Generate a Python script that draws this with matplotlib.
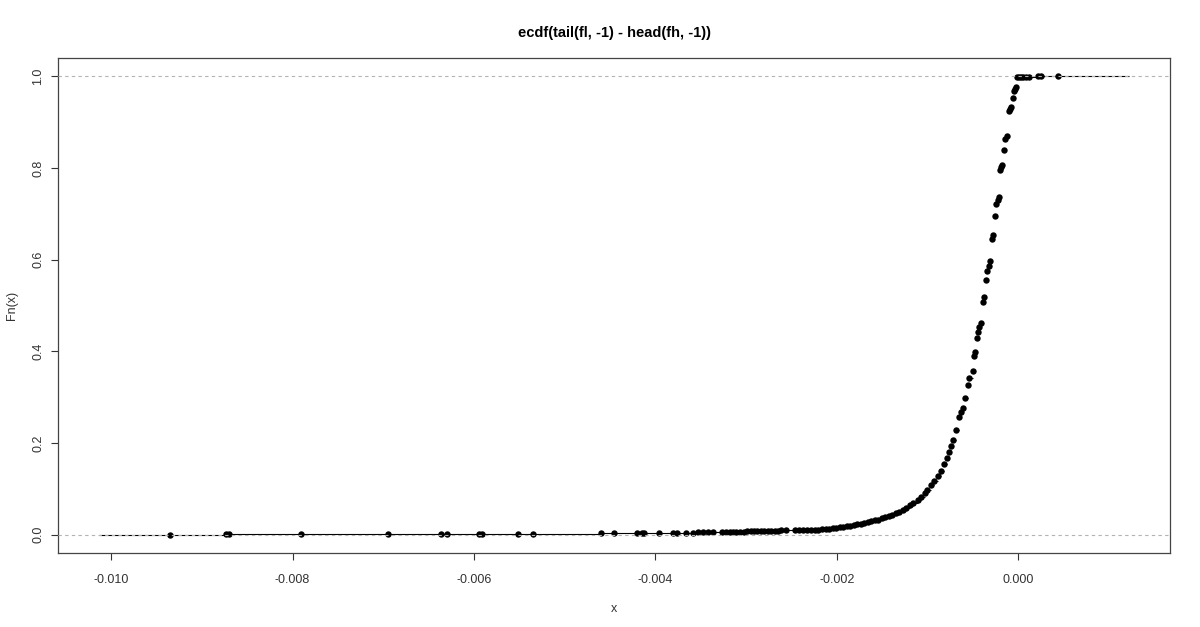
import numpy as np
import matplotlib
matplotlib.use('Agg')
import matplotlib.pyplot as plt

knots = [
    -0.00935, -0.00874, -0.00870, -0.00791, -0.00695, -0.00636, -0.00630,
    -0.00595, -0.00591, -0.00551, -0.00535, -0.00460, -0.00446, -0.00420,
    -0.00415, -0.00412, -0.00396, -0.00381, -0.00376, -0.00366, -0.00358,
    -0.00353, -0.00347, -0.00342, -0.00336, -0.00326, -0.00322, -0.00318,
    -0.00314, -0.00311, -0.00307, -0.00302, -0.00299, -0.00295, -0.00291,
    -0.00288, -0.00284, -0.00280, -0.00276, -0.00273, -0.00268, -0.00265,
    -0.00261, -0.00256, -0.00246, -0.00242, -0.00237, -0.00233, -0.00228,
    -0.00224, -0.00221,
    -0.002159, -0.002115, -0.002082, -0.002038, -0.002004, -0.001960,
    -0.001927, -0.001883, -0.001850, -0.001806, -0.001772, -0.001728,
    -0.001695, -0.001651, -0.001618, -0.001573, -0.001540, -0.001496,
    -0.001463, -0.001419, -0.001386, -0.001341, -0.001308, -0.001264,
    -0.001231, -0.001187, -0.001154, -0.001109, -0.001076, -0.001032,
    -0.000999, -0.000955, -0.000922, -0.000888, -0.000855, -0.000822,
    -0.000789, -0.000767, -0.000745, -0.000723, -0.000690, -0.000656,
    -0.000634, -0.000612, -0.000590, -0.000557, -0.000546, -0.000502,
    -0.000491, -0.000480, -0.000457, -0.000446, -0.000435, -0.000413,
    -0.000391, -0.000380, -0.000358, -0.000347, -0.000325, -0.000314,
    -0.000292, -0.000281, -0.000259, -0.000248, -0.000225, -0.000214,
    -0.000203, -0.000192, -0.000181, -0.000159, -0.000148, -0.000126,
    -0.000104, -0.000093, -0.000082, -0.000060, -0.000049, -0.000038,
    -0.000027, -0.000015, 0.000007, 0.000029, 0.000051, 0.000084,
    0.000117, 0.000217, 0.000250, 0.000438,
]

# Fn value at each knot
fn_vals = [
    0.0002, 0.0004, 0.0006, 0.0008, 0.0010, 0.0012, 0.0014,
    0.0016, 0.0018, 0.0021, 0.0024, 0.0027, 0.0030, 0.0033,
    0.0035, 0.0037, 0.0039, 0.0041, 0.0043, 0.0045, 0.0047,
    0.0049, 0.0051, 0.0053, 0.0055, 0.0057, 0.0059, 0.0061,
    0.0063, 0.0065, 0.0067, 0.0069, 0.0071, 0.0073, 0.0075,
    0.0077, 0.0079, 0.0081, 0.0083, 0.0085, 0.0087, 0.0089,
    0.0091, 0.0093, 0.0096, 0.0099, 0.0102, 0.0105, 0.0108,
    0.0110, 0.0112,
    0.0114, 0.0122, 0.0131, 0.0142, 0.0151, 0.0162,
    0.0172, 0.0186, 0.0197, 0.0212, 0.0223, 0.0240,
    0.0253, 0.0271, 0.0288, 0.0310, 0.0328, 0.0354,
    0.0376, 0.0406, 0.0432, 0.0467, 0.0502, 0.0546,
    0.0585, 0.0642, 0.0690, 0.0760, 0.0821, 0.0904,
    0.0983, 0.1079, 0.1179, 0.1275, 0.1397, 0.1539,
    0.1670, 0.1812, 0.1943, 0.2074, 0.2293, 0.2576,
    0.2686, 0.2773, 0.2991, 0.3275, 0.3428, 0.3581,
    0.3908, 0.3996, 0.4301, 0.4432, 0.4541, 0.4629,
    0.5066, 0.5175, 0.5546, 0.5742, 0.5852, 0.5961,
    0.6441, 0.6528, 0.6943, 0.7205, 0.7293, 0.7358,
    0.7948, 0.8013, 0.8057, 0.8384, 0.8624, 0.8690,
    0.9236, 0.9279, 0.9323, 0.9520, 0.9672, 0.9716,
    0.9760, 0.9978, 0.9985, 0.9990, 0.9993, 0.9995,
    0.9996, 0.9997, 0.9998, 1.0000,
]

x_ticks = [-0.010, -0.008, -0.006, -0.004, -0.002, 0.000]
y_ticks = [0.0, 0.2, 0.4, 0.6, 0.8, 1.0]

plt.rcParams['font.family'] = ['Liberation Sans', 'DejaVu Sans']

kn = np.array(knots)
fv = np.array(fn_vals)

# same limits as R's plot.stepfun, plus the usual 4% axis padding
rx = (kn.min(), kn.max())
dr = max(0.08 * (rx[1] - rx[0]), np.median(np.diff(kn)))
xlim = (rx[0] - dr, rx[1] + dr)
pad = 0.04 * (xlim[1] - xlim[0])

fig = plt.figure(figsize=(12, 6.27), dpi=100)
ax = fig.add_axes([58 / 1200, 1 - 553 / 627, 1112 / 1200, 495 / 627])

# horizontal steps
seg_x0 = np.concatenate([[xlim[0]], kn])
seg_x1 = np.concatenate([kn, [xlim[1]]])
seg_y = np.concatenate([[0.0], fv])
ax.hlines(seg_y, seg_x0, seg_x1, colors='black', linewidth=0.8, zorder=2)
ax.plot(kn, fv, 'o', color='black', markersize=4.6, markeredgewidth=0, zorder=3)

# 0 and 1 reference lines
for h in (0, 1):
    ax.axhline(h, color='#b3b3b3', linestyle=(0, (3, 3)), linewidth=0.8, zorder=4)

ax.set_xlim(xlim[0] - pad, xlim[1] + pad)
ax.set_ylim(-0.04, 1.04)
ax.set_xticks(x_ticks)
ax.set_xticklabels([f'{t:.3f}' for t in x_ticks])
ax.set_yticks(y_ticks)
ax.set_yticklabels([f'{t:.1f}' for t in y_ticks], rotation=90, va='center')
ax.tick_params(direction='out', length=5, width=0.8, colors='#333333',
               labelsize=9)
ax.tick_params(axis='x', pad=10)
ax.tick_params(axis='y', pad=5)
for s in ax.spines.values():
    s.set_color('#444444')
    s.set_linewidth(0.9)

ax.set_title('ecdf(tail(fl, -1) - head(fh, -1))', fontsize=10.5,
             fontweight='bold', pad=15)
ax.set_xlabel('x', fontsize=9, labelpad=12, color='#333333')
ax.set_ylabel('Fn(x)', fontsize=9, labelpad=10, color='#333333')

fig.savefig('out.png', dpi=100)
